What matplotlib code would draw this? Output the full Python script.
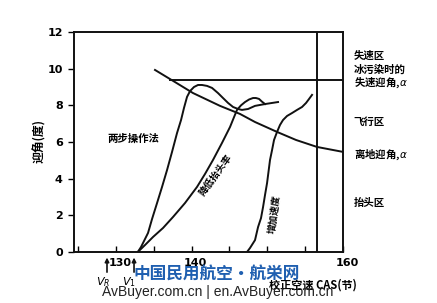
import matplotlib
matplotlib.use("Agg")
import matplotlib.pyplot as plt
import matplotlib.transforms as mtransforms

plt.rcParams['font.family'] = ['Noto Sans CJK SC', 'DejaVu Sans']

# ---- data (knots, degrees) ----
two_step_x = [132.9, 133.32, 133.72, 134.25, 134.78, 135.44, 136.10, 136.76, 137.42, 138.08, 138.61, 139.0, 139.40, 139.8, 140.32, 140.85, 141.38, 142.04, 142.70, 143.49, 144.15, 144.82, 145.48, 146.14, 146.66, 147.46, 148.38, 149.70, 151.42]
two_step_y = [0.0, 0.27, 0.60, 1.04, 1.80, 2.67, 3.55, 4.47, 5.46, 6.49, 7.20, 7.86, 8.46, 8.78, 9.0, 9.11, 9.11, 9.06, 8.95, 8.67, 8.40, 8.13, 7.91, 7.80, 7.75, 7.80, 7.97, 8.07, 8.18]

slow_rot_x = [132.9, 133.85, 134.91, 136.23, 137.55, 139.13, 140.72, 141.78, 142.83, 144.02, 145.08, 145.61, 146.00, 146.53, 147.06, 147.6, 148.12, 148.5, 148.91, 149.3, 149.70]
slow_rot_y = [0.0, 0.38, 0.82, 1.31, 1.91, 2.67, 3.55, 4.26, 5.02, 5.95, 6.82, 7.36, 7.75, 8.0, 8.18, 8.32, 8.40, 8.40, 8.35, 8.2, 8.07]

fast_x = [147.32, 147.72, 148.38, 148.78, 149.17, 149.44, 149.70, 149.97, 150.36, 150.63, 150.89, 151.29, 151.68, 152.08, 152.61, 153.27, 153.93, 154.59, 155.12, 155.52, 155.91]
fast_y = [0.0, 0.22, 0.65, 1.36, 1.85, 2.45, 3.11, 3.76, 5.02, 5.56, 6.11, 6.55, 6.93, 7.20, 7.42, 7.58, 7.75, 7.91, 8.13, 8.35, 8.57]

liftoff_x = [135.17, 137.81, 140.19, 143.76, 146.40, 148.38, 151.29, 153.80, 156.57, 160.0]
liftoff_y = [9.93, 9.27, 8.67, 7.97, 7.53, 7.09, 6.55, 6.11, 5.73, 5.46]

stall_ice_x = [137.2, 160.0]
stall_ice_y = [9.4, 9.4]

vline_x = 156.5

x_ticks = [125, 130, 135, 140, 145, 150, 155, 160]
x_tick_labels = ['', '130', '', '140', '', '', '', '160']
y_ticks = [0, 2, 4, 6, 8, 10, 12]

v_r = 128.83
v_1 = 132.4

fig = plt.figure(figsize=(4.37, 3.03), dpi=100)
ax = fig.add_axes([0.1693, 0.1683, 0.6156, 0.7261])

lw = 1.4
c = '#111111'
ax.plot(two_step_x, two_step_y, color=c, lw=lw, solid_joinstyle='round')
ax.plot(slow_rot_x, slow_rot_y, color=c, lw=lw, solid_joinstyle='round')
ax.plot(fast_x, fast_y, color=c, lw=lw, solid_joinstyle='round')
ax.plot(liftoff_x, liftoff_y, color=c, lw=lw, solid_joinstyle='round')
ax.plot(stall_ice_x, stall_ice_y, color=c, lw=lw)
ax.axvline(vline_x, color=c, lw=lw)

ax.set_xlim(124.47, 160)
ax.set_ylim(0, 12)
for s in ax.spines.values():
    s.set_linewidth(1.4)
    s.set_color(c)

ax.set_xticks(x_ticks)
ax.set_xticklabels(x_tick_labels, fontsize=8, fontweight='bold', family='DejaVu Sans')
ax.set_yticks(y_ticks)
ax.set_yticklabels([str(v) for v in y_ticks], fontsize=8, fontweight='bold', family='DejaVu Sans')
ax.tick_params(axis='x', direction='in', length=4, width=1, pad=4)
ax.tick_params(axis='y', direction='out', length=4, width=1, pad=4)
shift = mtransforms.ScaledTranslation(4/100, 0, fig.dpi_scale_trans)
for lab in ax.get_xticklabels():
    lab.set_transform(lab.get_transform() + shift)

# curve labels
ax.text(132.27, 6.16, '两步操作法', fontsize=7.5, fontweight='bold', ha='center', va='center')
ax.text(143.1, 4.2, '降低抬头率', fontsize=7, fontweight='bold', ha='center', va='center', rotation=54)
ax.text(150.96, 2.07, '增加速度', fontsize=7, fontweight='bold', ha='center', va='center', rotation=82)

# right-hand region labels
rx = 161.4
rkw = dict(fontsize=7.5, fontweight='bold', ha='left', va='center', clip_on=False)
ax.text(rx, 10.69, '失速区', **rkw)
ax.text(rx, 9.52, '冰污染时的\n失速迎角,$\\alpha$', linespacing=1.05, **rkw)
ax.text(rx, 7.09, '飞行区', **rkw)
ax.text(rx, 5.29, '离地迎角,$\\alpha$', **rkw)
ax.text(rx, 2.67, '抬头区', **rkw)

# V_R, V_1 arrows
for vx in (v_r, v_1):
    ax.annotate('', xy=(vx, -0.15), xytext=(vx, -1.25), xycoords='data',
                arrowprops=dict(arrowstyle='-|>', color=c, lw=1.2, mutation_scale=6),
                annotation_clip=False)
ax.text(v_r - 0.5, -1.64, '$V_R$', fontsize=8, fontweight='bold', ha='center', va='center', clip_on=False)
ax.text(v_1 - 0.7, -1.64, '$V_1$', fontsize=8, fontweight='bold', ha='center', va='center', clip_on=False)

# axis titles
fig.text(40/437, 1-141/303, '迎角(度)', rotation=90, fontsize=8.5, fontweight='bold', ha='center', va='center')
fig.text(313/437, 1-285/303, '校正空速 CAS(节)', fontsize=8, fontweight='bold', ha='center', va='center', zorder=1)

# watermark
fig.text(0.4954, 1-274/303, '中国民用航空·航栄网', fontsize=12, fontweight='bold', color='#1f5fb0', ha='center', va='center', zorder=5)
fig.text(217.5/437, 1-292/303, 'AvBuyer.com.cn | en.AvBuyer.com.cn', fontsize=10, color='#222222',
         family='Liberation Sans', ha='center', va='center', zorder=5)

fig.savefig('out.png', dpi=100)
